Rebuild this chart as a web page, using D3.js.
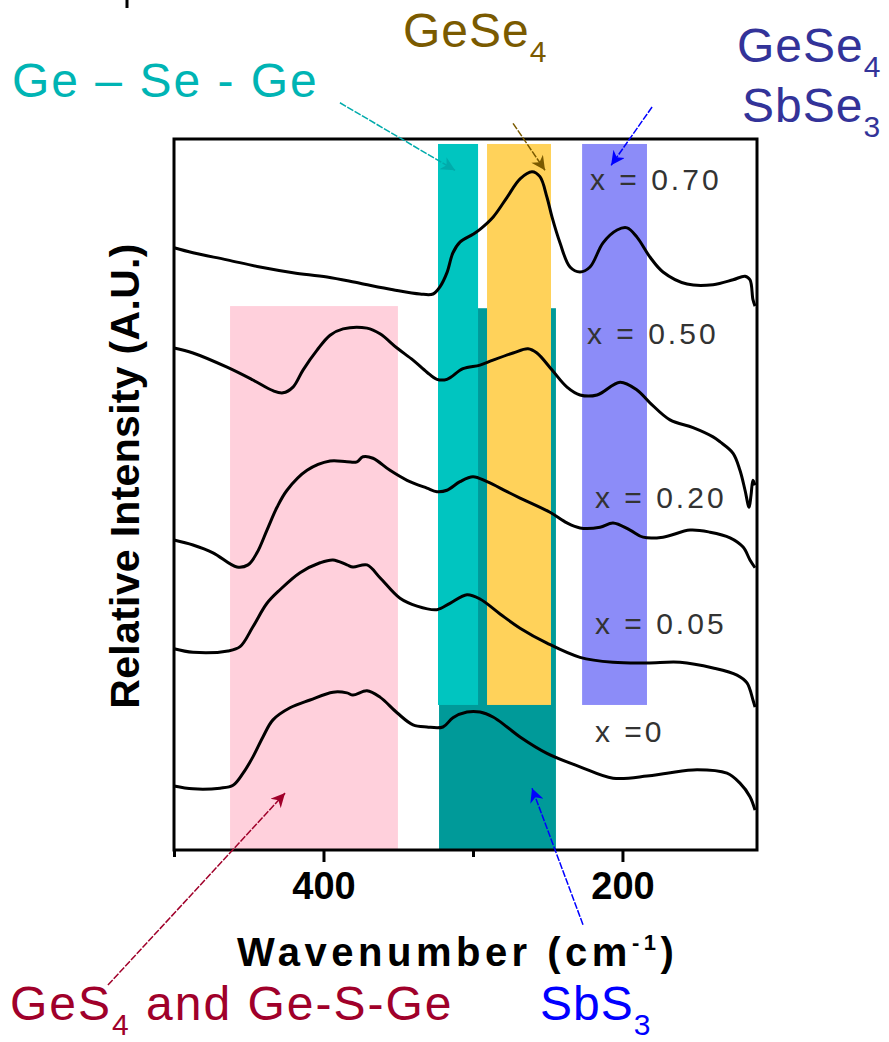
<!DOCTYPE html>
<html>
<head>
<meta charset="utf-8">
<script src="https://cdn.jsdelivr.net/npm/d3@7"></script>
<style>
body{margin:0;background:#fff}
svg{display:block}
text{font-family:"Liberation Sans",Arial,sans-serif}
</style>
</head>
<body>
<svg id="chart"></svg>
<script>
// Raman spectra: [wavenumber (cm-1), relative intensity (a.u., offset)]
const x070 = [[500,8.47],[487.3,8.40],[464.5,8.30],[442.5,8.20],[420.4,8.12],[397.6,8.06],[375.6,7.97],[353.5,7.88],[335.4,7.82],[326.7,7.82],[322.1,7.92],[317.4,8.12],[313.4,8.40],[308.7,8.55],[300,8.66],[295.3,8.73],[286.6,8.90],[277.2,9.18],[268.5,9.44],[260.5,9.54],[255.2,9.47],[250.5,9.18],[247.1,8.90],[241.8,8.54],[235.1,8.20],[228.4,8.13],[221.7,8.20],[213,8.54],[203.6,8.72],[196.9,8.75],[190.3,8.62],[181.6,8.34],[172.9,8.13],[156.8,7.96],[139.4,7.95],[126,8.02],[118,8.07],[114.7,8.02],[112.7,7.74],[111.3,7.65]]
const x050 = [[500,7.06],[487.3,6.99],[464.5,6.79],[447.2,6.61],[433.8,6.46],[427.1,6.43],[420.4,6.51],[413.7,6.75],[404.3,7.03],[395.6,7.24],[386.9,7.33],[370.9,7.34],[362.2,7.26],[350.8,7.06],[340.1,6.89],[330.8,6.72],[324.1,6.62],[317.4,6.62],[306.7,6.77],[295.3,6.82],[286.6,6.89],[273.2,6.99],[263.2,7.05],[257.2,6.99],[247.1,6.75],[237.1,6.51],[228.4,6.40],[217,6.40],[201.6,6.58],[190.3,6.47],[181.6,6.29],[168.2,6.05],[152.8,5.94],[139.4,5.81],[134.7,5.74],[126,5.58],[121.4,5.34],[118,5.06],[115.3,4.82],[114,4.99],[112.7,5.20],[111.3,5.13]]
const x020 = [[500,4.36],[487.3,4.29],[473.9,4.18],[457.9,3.98],[450.5,4.01],[444.5,4.18],[437.8,4.50],[431.1,4.82],[424.4,5.06],[411,5.34],[395.6,5.47],[384.3,5.46],[377.6,5.46],[373.6,5.53],[366.9,5.51],[355.5,5.34],[344.1,5.20],[330.8,5.09],[324.1,5.04],[317.4,5.06],[308.7,5.18],[300,5.25],[290.6,5.18],[277.2,5.04],[268.5,4.95],[248.5,4.75],[237.1,4.60],[228.4,4.53],[215,4.54],[206.3,4.60],[194.9,4.50],[186.2,4.40],[172.9,4.40],[154.8,4.50],[141.4,4.47],[128,4.39],[119.3,4.26],[114.7,4.08],[111.3,3.97]]
const x005 = [[500,2.83],[487.3,2.78],[463.9,2.80],[455.8,2.86],[447.2,3.14],[437.8,3.47],[429.1,3.66],[415.7,3.90],[402.3,4.04],[393.6,4.08],[384.3,4.01],[380.3,3.98],[370.9,4.01],[362.2,3.83],[348.8,3.54],[337.4,3.43],[324.1,3.38],[315.4,3.47],[304,3.59],[295.3,3.53],[281.9,3.32],[268.5,3.12],[250.5,2.91],[228.4,2.71],[206.3,2.64],[183.6,2.63],[161.5,2.64],[139.4,2.56],[123.4,2.46],[116.7,2.35],[112.7,2.11],[111.3,2.01]]
const x000 = [[500,0.90],[487.3,0.86],[469.2,0.87],[460.5,0.91],[453.8,1.08],[447.2,1.31],[440.5,1.59],[433.8,1.83],[422.4,2.00],[409,2.11],[393.6,2.22],[384.3,2.21],[380.3,2.18],[370.9,2.24],[362.2,2.15],[350.8,1.93],[340.1,1.76],[330.8,1.73],[320.1,1.73],[313.4,1.86],[304,1.94],[295.3,1.94],[286.6,1.87],[277.2,1.73],[268.5,1.59],[250.5,1.36],[228.4,1.17],[206.3,1.01],[183.6,1.04],[170.2,1.08],[150.1,1.13],[130.1,1.08],[121.4,0.94],[114.7,0.75],[111.3,0.56]]

const seriesNames = ["x = 0.70", "x = 0.50", "x = 0.20", "x = 0.05", "x =0"]
const xTicksMajor = [400, 200]
const xTicksMinor = [500, 300]

// highlighted bands: wavenumber range and intensity range
const bandNames = ["GeS4 and Ge-S-Ge", "SbS3", "Ge-Se-Ge", "GeSe4", "GeSe4 SbSe3"]
const bandFrom = [462.5, 322.7, 323.4, 290.6, 227.0]
const bandTo = [350.2, 244.5, 296.6, 247.8, 183.6]
const bandTop = [7.65, 7.62, 9.93, 9.93, 9.93]
const bandBottom = [0, 0, 2.04, 2.04, 2.04]

// annotation arrows: tail and tip in data units
const arrowTail = [[389, 10.51], [273.2, 10.22], [180.2, 10.45], [544.2, -1.90], [226.4, -1.05]]
const arrowTip = [[312, 9.56], [251.8, 9.56], [207.6, 9.63], [425.7, 0.80], [260.5, 0.87]]

var dimensions = {
    width: 889,
    height: 1042,
    margin: {top: 139, bottom: 192, right: 132, left: 174}
}
var bandColors = ["#FFD0DC", "#009A99", "#00C5C0", "#FFD25A", "#8C8CF8"]
var arrowColors = ["#00ABAB", "#7A5A00", "#0000FF", "#A0002A", "#0000FF"]

var svg = d3.select("#chart")
    .attr("width", dimensions.width)
    .attr("height", dimensions.height)

var xScale = d3.scaleLinear()
    .domain([500, 110])
    .range([dimensions.margin.left, dimensions.width - dimensions.margin.right])
var yScale = d3.scaleLinear()
    .domain([0, 10])
    .range([dimensions.height - dimensions.margin.bottom, dimensions.margin.top])

// bands
svg.append("g").selectAll("rect")
    .data(bandNames)
    .enter()
    .append("rect")
    .attr("x", (d, i) => xScale(bandFrom[i]))
    .attr("width", (d, i) => xScale(bandTo[i]) - xScale(bandFrom[i]))
    .attr("y", (d, i) => yScale(bandTop[i]))
    .attr("height", (d, i) => yScale(bandBottom[i]) - yScale(bandTop[i]))
    .style("fill", (d, i) => bandColors[i])

// curves
var line = d3.line()
    .x(d => xScale(d[0]))
    .y(d => yScale(d[1]))
    .curve(d3.curveCatmullRom.alpha(0.5))

svg.append("g").selectAll("path")
    .data([x070, x050, x020, x005, x000])
    .enter()
    .append("path")
    .attr("d", line)
    .style("fill", "none")
    .style("stroke", "#000")
    .style("stroke-width", 3)
    .style("stroke-linejoin", "round")

// series labels
var labelPos = [[590, 190], [587, 344], [595, 508], [595, 634], [595, 742]]
svg.append("g").selectAll("text")
    .data(seriesNames)
    .enter()
    .append("text")
    .attr("x", (d, i) => labelPos[i][0])
    .attr("y", (d, i) => labelPos[i][1])
    .style("font-size", "30px")
    .style("letter-spacing", "3px")
    .style("fill", "#333")
    .text(d => d)

// frame
var plotW = dimensions.width - dimensions.margin.left - dimensions.margin.right
var plotH = dimensions.height - dimensions.margin.top - dimensions.margin.bottom
svg.append("rect")
    .attr("x", dimensions.margin.left)
    .attr("y", dimensions.margin.top)
    .attr("width", plotW)
    .attr("height", plotH)
    .style("fill", "none")
    .style("stroke", "#000")
    .style("stroke-width", 3)

// x axis
var xAxisMajor = d3.axisBottom(xScale).tickValues(xTicksMajor).tickSize(12).tickPadding(10).tickFormat(d3.format("d"))
var xAxisMinor = d3.axisBottom(xScale).tickValues(xTicksMinor).tickSize(7).tickFormat("")
var baseY = dimensions.height - dimensions.margin.bottom
var gMaj = svg.append("g").attr("transform", `translate(0,${baseY})`).call(xAxisMajor)
var gMin = svg.append("g").attr("transform", `translate(0,${baseY})`).call(xAxisMinor)
;[gMaj, gMin].forEach(g => {
    g.select(".domain").remove()
    g.selectAll(".tick line").style("stroke", "#000").style("stroke-width", 3)
})
gMaj.selectAll(".tick text")
    .style("font-size", "38px")
    .style("font-weight", "bold")
    .style("font-family", '"Liberation Sans",Arial,sans-serif')
    .style("fill", "#000")

// axis titles
var xt = svg.append("text")
    .attr("x", 237).attr("y", 966)
    .style("font-size", "40px").style("font-weight", "bold").style("letter-spacing", "4.5px")
xt.append("tspan").text("Wavenumber (cm")
xt.append("tspan").attr("dy", -16).style("font-size", "22px").text("-1")
xt.append("tspan").attr("dy", 16).text(")")

svg.append("text")
    .attr("transform", "translate(139,476) rotate(-90)")
    .attr("text-anchor", "middle")
    .style("font-size", "41px").style("font-weight", "bold").style("letter-spacing", "0.3px")
    .text("Relative Intensity (A.U.)")

// arrows
var defs = svg.append("defs")
arrowColors.forEach((c, i) => {
    defs.append("marker")
        .attr("id", "ah" + i)
        .attr("viewBox", "0 0 10 10")
        .attr("refX", 10).attr("refY", 5)
        .attr("markerUnits", "userSpaceOnUse")
        .attr("markerWidth", 16).attr("markerHeight", 14)
        .attr("orient", "auto")
        .append("path").attr("d", "M0,0L10,5L0,10L3,5Z").style("fill", c)
})
svg.append("g").selectAll("line")
    .data(arrowTail)
    .enter()
    .append("line")
    .attr("x1", d => xScale(d[0])).attr("y1", d => yScale(d[1]))
    .attr("x2", (d, i) => xScale(arrowTip[i][0])).attr("y2", (d, i) => yScale(arrowTip[i][1]))
    .style("stroke", (d, i) => arrowColors[i])
    .style("stroke-width", 1.5)
    .style("stroke-dasharray", "7,1.5")
    .attr("marker-end", (d, i) => `url(#ah${i})`)

// annotation labels
function label(x, y, color, main, sub, rest, spacing) {
    var t = svg.append("text").attr("x", x).attr("y", y)
        .style("font-size", "48px").style("fill", color).style("letter-spacing", (spacing || 1) + "px")
    t.append("tspan").text(main)
    if (sub) t.append("tspan").attr("dy", 15).style("font-size", "30px").text(sub)
    if (rest) t.append("tspan").attr("dy", -15).text(rest)
}
label(12, 97, "#00B4B4", "Ge \u2013 Se - Ge", null, null, 2)
label(403, 47, "#7A5A00", "GeSe", "4")
label(737, 62, "#333399", "GeSe", "4")
label(742, 122, "#333399", "SbSe", "3")
label(10, 1020, "#A0002A", "GeS", "4", " and Ge-S-Ge", 2)
label(540, 1020, "#0000FF", "SbS", "3")

// clipped glyph at top-left corner
svg.append("line").attr("x1", 127).attr("x2", 127).attr("y1", 0).attr("y2", 8)
    .style("stroke", "#000").style("stroke-width", 3)
</script>
</body>
</html>
